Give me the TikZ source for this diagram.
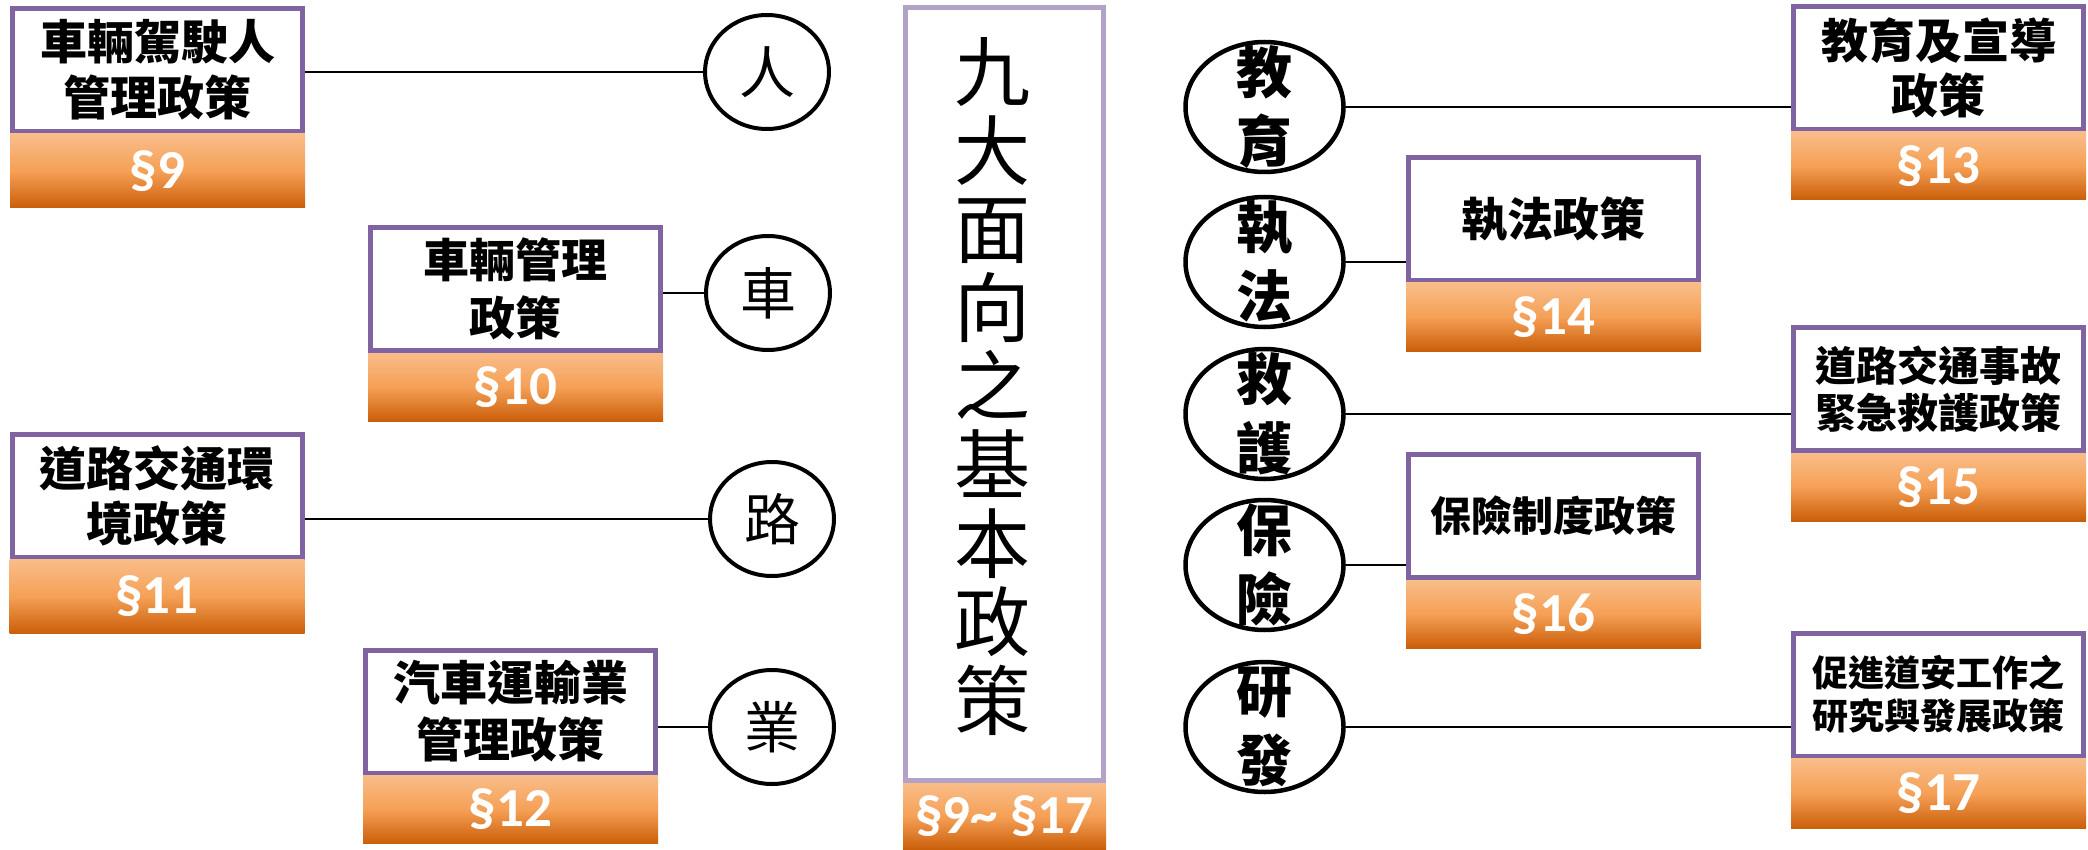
\documentclass[tikz,border=0pt]{standalone}
\usepackage{fontspec}
\usepackage{tikz}
\usetikzlibrary{%
  shapes.geometric,%
  positioning
}
\newfontfamily\cjk{Noto Sans CJK TC}
\newfontfamily\secfont{Carlito}
\definecolor{boxpurple}{HTML}{8064A2}
\definecolor{lightpurple}{HTML}{B3A2C7}
\definecolor{bandtop}{HTML}{F9BD89}
\definecolor{bandmid}{HTML}{F5A056}
\definecolor{bandbot}{HTML}{CA5E09}

\begin{document}
\begin{tikzpicture}[x=1pt,y=-1pt,
    policy/.style={draw=boxpurple,line width=5pt,fill=white,minimum width=290pt,
      minimum height=123pt,inner sep=0pt,align=center},
    band/.style={anchor=north,minimum width=295pt,minimum height=#1,inner sep=0pt,
      outer sep=0pt,top color=bandtop,bottom color=bandbot,middle color=bandmid,
      text=white,font=\secfont\bfseries\fontsize{55}{55}\selectfont},
    band/.default=68pt,
    ring/.style={ellipse,draw=black,line width=4pt,minimum width=124pt,
      minimum height=114pt,inner sep=0pt,font=\cjk\fontsize{56}{56}\selectfont},
    oval/.style={ellipse,draw=black,line width=4.5pt,minimum width=158pt,
      minimum height=130pt,inner sep=0pt},
    ovaltext/.style={align=center,inner sep=0pt,font=\cjk\bfseries\fontsize{56}{69}\selectfont},
    link/.style={draw=black,line width=2pt}]
  \useasboundingbox (0,0) rectangle (2088,850);

  % center column
  \node [draw=lightpurple,line width=5pt,minimum width=198pt,minimum height=773pt]
    (core) at (1004.5,394) {};
  \node [align=center,inner sep=0pt,font=\cjk\fontsize{76}{78.6}\selectfont]
    (coretext) at (992,386.5) {九\\大\\面\\向\\之\\基\\本\\政\\策};
  \node [band=67pt,minimum width=203pt] (coreband) at (core.south) {§9\textasciitilde{} §17};

  % left side
  \node [policy,font=\cjk\bfseries\fontsize{47}{56}\selectfont] (driver) at (157.5,70)
    {車輛駕駛人\\管理政策};
  \node [band=74pt] (driverband) at (driver.south) {§9};
  \node [policy,font=\cjk\bfseries\fontsize{46}{58}\selectfont] (vehicle) at (515.5,289)
    {車輛管理\\政策};
  \node [band] (vehicleband) at (vehicle.south) {§10};
  \node [policy,font=\cjk\bfseries\fontsize{47}{55}\selectfont] (road) at (157,495.5)
    {道路交通環\\境政策};
  \node [band=74pt] (roadband) at (road.south) {§11};
  \node [policy,font=\cjk\bfseries\fontsize{47}{57}\selectfont] (industry) at (510.5,711.5)
    {汽車運輸業\\管理政策};
  \node [band] (industryband) at (industry.south) {§12};

  \node [ring] (ren) at (767,72) {人};
  \node [ring] (che) at (768,293) {車};
  \node [ring] (lu) at (772,519) {路};
  \node [ring] (ye) at (772,727) {業};

  \draw [link] (driver.east |- ren) -- (ren.west);
  \draw [link] (vehicle.east |- che) -- (che.west);
  \draw [link] (road.east |- lu) -- (lu.west);
  \draw [link] (industry.east |- ye) -- (ye.west);

  % right side
  \node [policy,font=\cjk\bfseries\fontsize{47}{55}\selectfont] (edu) at (1938.5,68)
    {教育及宣導\\政策};
  \node [band] (eduband) at (edu.south) {§13};
  \node [policy,font=\cjk\bfseries\fontsize{46}{56}\selectfont] (enforce) at (1553.5,219)
    {執法政策};
  \node [band] (enforceband) at (enforce.south) {§14};
  \node [policy,font=\cjk\bfseries\fontsize{41}{47}\selectfont] (rescue) at (1938.5,389)
    {道路交通事故\\緊急救護政策};
  \node [band] (rescueband) at (rescue.south) {§15};
  \node [policy,font=\cjk\bfseries\fontsize{41}{47}\selectfont] (insure) at (1553.5,516)
    {保險制度政策};
  \node [band] (insureband) at (insure.south) {§16};
  \node [policy,font=\cjk\bfseries\fontsize{36}{43}\selectfont] (research) at (1938.5,694.5)
    {促進道安工作之\\研究與發展政策};
  \node [band=70pt] (researchband) at (research.south) {§17};

  \node [oval] (jiaoyu) at (1264.5,107) {};
  \node [ovaltext] at (jiaoyu) {教\\育};
  \node [oval] (zhifa) at (1264.5,262) {};
  \node [ovaltext] at (zhifa) {執\\法};
  \node [oval] (jiuhu) at (1264.5,414) {};
  \node [ovaltext] at (jiuhu) {救\\護};
  \node [oval] (baoxian) at (1264.5,565) {};
  \node [ovaltext] at (baoxian) {保\\險};
  \node [oval] (yanfa) at (1264.5,727) {};
  \node [ovaltext] at (yanfa) {研\\發};

  \draw [link] (jiaoyu.east) -- (jiaoyu.east -| edu.west);
  \draw [link] (zhifa.east) -- (zhifa.east -| enforce.west);
  \draw [link] (jiuhu.east) -- (jiuhu.east -| rescue.west);
  \draw [link] (baoxian.east) -- (baoxian.east -| insure.west);
  \draw [link] (yanfa.east) -- (yanfa.east -| research.west);
\end{tikzpicture}
\end{document}
